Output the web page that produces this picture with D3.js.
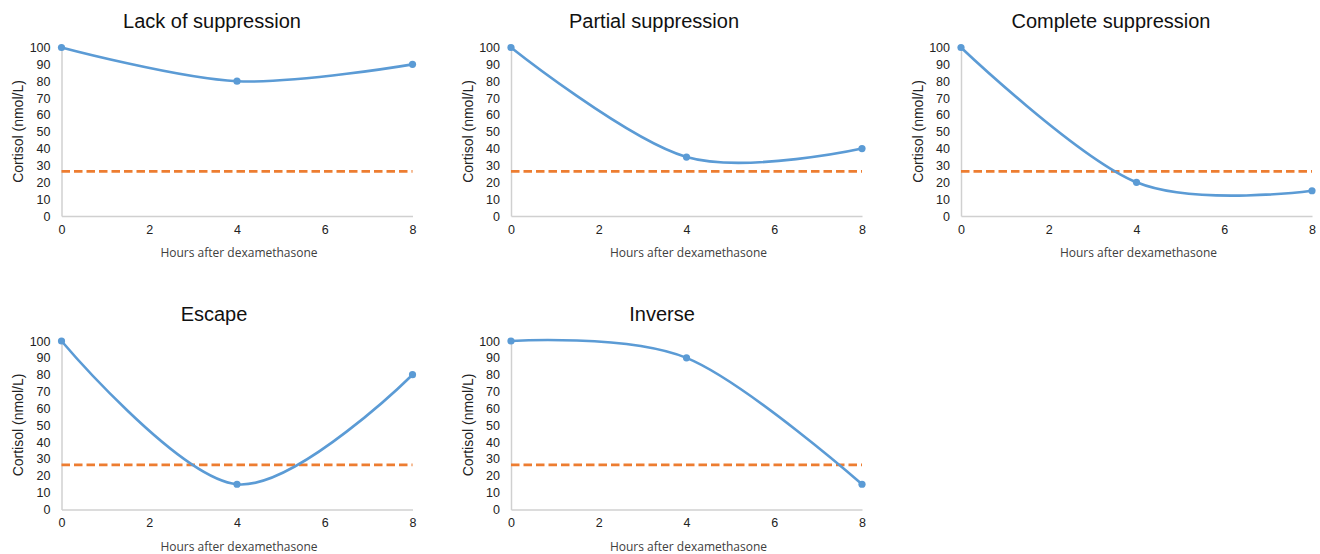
<!DOCTYPE html>
<html lang="en">
  <head>
    <meta charset="utf-8">
    <title>Dexamethasone suppression patterns</title>
    <script src="https://d3js.org/d3.v7.min.js"></script>
    <style type="text/css">
      body { margin: 0; background: #fff; }
      .title { font-family: "Liberation Sans", Arial, sans-serif; font-size: 20px; fill: #111; }
      .tick text { font-family: "Liberation Sans", Arial, sans-serif; font-size: 12.5px; fill: #222; }
      .ylab { font-family: "Liberation Sans", Arial, sans-serif; font-size: 14px; fill: #222; }
      .xlab { font-family: "Open Sans", "Noto Sans", sans-serif; font-size: 12px; fill: #404040; }
      .domain { stroke: #d0d0d0; stroke-width: 1.5px; }
      .curve { fill: none; stroke: #5b9bd5; stroke-width: 2.6px; }
      .cutoff { stroke: #ed7d31; stroke-width: 2.8px; stroke-dasharray: 8.5 4; }
    </style>
  </head>
  <body>
    <script>
      var w = 1320;
      var h = 554;

      var hours = [0, 4, 8];
      var titles = ["Lack of suppression", "Partial suppression", "Complete suppression",
                    "Escape", "Inverse"];
      var lackOfSuppression = [100, 80, 90];
      var partialSuppression = [100, 35, 40];
      var completeSuppression = [100, 20, 15];
      var escape = [100, 15, 80];
      var inverse = [100, 90, 15];
      var cutoff = 26.5;
      var xTicks = [0, 2, 4, 6, 8];
      var yTicks = d3.range(0, 101, 10);

      var series = [lackOfSuppression, partialSuppression, completeSuppression, escape, inverse];

      // panel placement (plot area left edge, top of y=100, title centre)
      var lefts = [61.5, 511, 961, 61.5, 511];
      var tops = [47.5, 47.5, 47.5, 341, 341];
      var titleX = [212, 654, 1111, 214, 662];
      var pw = 351;
      var ph = 168.5;

      var svg = d3.select("body").append("svg")
          .attr("width", w).attr("height", h);

      series.forEach(function(vals, i) {
        var g = svg.append("g")
            .attr("transform", "translate(" + lefts[i] + "," + tops[i] + ")");

        var xScale = d3.scaleLinear().domain([0, 8]).range([0, pw]);
        var yScale = d3.scaleLinear().domain([0, 100]).range([ph, 0]);

        g.append("g")
          .attr("transform", "translate(0," + ph + ")")
          .call(d3.axisBottom(xScale).tickValues(xTicks).tickSize(0).tickPadding(9));

        g.append("g")
          .call(d3.axisLeft(yScale).tickValues(yTicks).tickSize(0).tickPadding(11));

        g.append("line")
          .attr("class", "cutoff")
          .attr("x1", xScale(0)).attr("x2", xScale(8))
          .attr("y1", yScale(cutoff)).attr("y2", yScale(cutoff));

        var pts = hours.map((d, j) => [d, vals[j]]);

        var linegen = d3.line()
          .x(d => xScale(d[0]))
          .y(d => yScale(d[1]))
          .curve(d3.curveCardinal.tension(0));

        g.append("path")
          .datum(pts)
          .attr("class", "curve")
          .attr("d", linegen);

        g.selectAll("circle").data(pts).enter().append("circle")
          .attr("cx", d => xScale(d[0]))
          .attr("cy", d => yScale(d[1]))
          .attr("r", 3.6)
          .attr("fill", "#5b9bd5");

        svg.append("text")
          .attr("class", "title")
          .attr("x", titleX[i]).attr("y", tops[i] - 20)
          .attr("text-anchor", "middle")
          .text(titles[i]);

        svg.append("text")
          .attr("class", "xlab")
          .attr("x", lefts[i] + pw / 2 + 2).attr("y", tops[i] + ph + 41)
          .attr("text-anchor", "middle")
          .text("Hours after dexamethasone");

        svg.append("text")
          .attr("class", "ylab")
          .attr("transform", "translate(" + (lefts[i] - 38.5) + "," + (tops[i] + 84) + ") rotate(-90)")
          .attr("text-anchor", "middle")
          .text("Cortisol (nmol/L)");
      });
    </script>
  </body>
</html>
